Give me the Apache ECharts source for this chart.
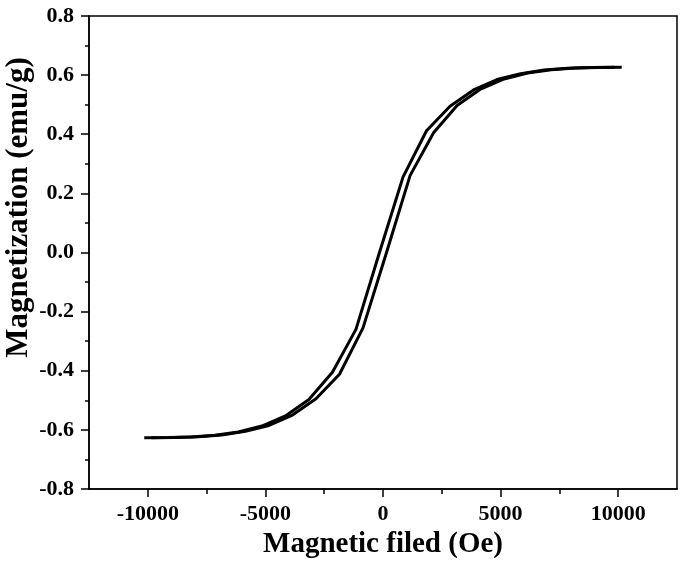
<!DOCTYPE html>
<html>
<head>
<meta charset="utf-8">
<script src="https://cdn.jsdelivr.net/npm/echarts@6/dist/echarts.min.js"></script>
<style>
  html, body { margin: 0; padding: 0; background: #fff; }
  #chart { width: 683px; height: 562px; }
</style>
</head>
<body>
<div id="chart"></div>
<script>
// descending branch: field (Oe) and magnetization (emu/g)
const fieldDown = [9850, 8850, 7850, 6850, 5850, 4850, 3850, 2850, 1850, 850, -150,
  -1150, -2150, -3150, -4150, -5150, -6150, -7150, -8150, -9150, -10150];
const magDown = [0.627, 0.626, 0.623, 0.617, 0.605, 0.585, 0.550, 0.495, 0.412, 0.255, 0.000,
  -0.260, -0.405, -0.497, -0.553, -0.587, -0.607, -0.618, -0.624, -0.626, -0.627];
// ascending branch
const fieldUp = [-9850, -8850, -7850, -6850, -5850, -4850, -3850, -2850, -1850, -850, 150,
  1150, 2150, 3150, 4150, 5150, 6150, 7150, 8150, 9150, 10150];
const magUp = [-0.627, -0.626, -0.623, -0.617, -0.605, -0.585, -0.550, -0.495, -0.412, -0.255, 0.000,
  0.260, 0.405, 0.497, 0.553, 0.587, 0.607, 0.618, 0.624, 0.626, 0.627];

const xMajorTicks = [-10000, -5000, 0, 5000, 10000];
const xMinorTicks = [-7500, -2500, 2500, 7500];

const font = '"Times New Roman", "Liberation Serif", serif';

const chart = echarts.init(document.getElementById('chart'));

const pair = (xs, ys) => xs.map((x, i) => [x, ys[i]]);

const lineSeries = (data) => ({
  type: 'line',
  data: data,
  showSymbol: false,
  symbol: 'none',
  lineStyle: { color: '#000', width: 3 },
  animation: false
});

chart.setOption({
  animation: false,
  grid: {
    left: 89, right: 6, top: 16, bottom: 73,
    containLabel: false,
    outerBoundsMode: 'none',
    show: true, borderColor: '#000', borderWidth: 1.5
  },
  xAxis: [
    {
      type: 'value',
      min: -12500,
      max: 12500,
      name: 'Magnetic filed (Oe)',
      nameLocation: 'middle',
      nameGap: 41,
      nameMoveOverlap: false,
      nameTextStyle: { fontFamily: font, fontWeight: 'bold', fontSize: 29, color: '#000' },
      axisLine: { show: true, onZero: false, lineStyle: { color: '#000', width: 1.5 } },
      axisTick: { show: true, length: 8, customValues: xMajorTicks, lineStyle: { color: '#000', width: 1.5 } },
      axisLabel: {
        customValues: xMajorTicks,
        margin: 14,
        formatter: (v) => String(v),
        fontFamily: font, fontWeight: 'bold', fontSize: 22, color: '#000'
      },
      splitLine: { show: false }
    },
    {
      type: 'value',
      min: -12500,
      max: 12500,
      position: 'bottom',
      axisLine: { show: false, onZero: false },
      axisTick: { show: true, length: 5, customValues: xMinorTicks, lineStyle: { color: '#000', width: 1.5 } },
      axisLabel: { show: false },
      splitLine: { show: false }
    }
  ],
  yAxis: {
    type: 'value',
    min: -0.8,
    max: 0.8,
    interval: 0.2,
    name: 'Magnetization (emu/g)',
    nameLocation: 'middle',
    nameGap: 55,
    nameMoveOverlap: false,
    nameTextStyle: { fontFamily: font, fontWeight: 'bold', fontSize: 31, color: '#000', padding: [0, 0, 0, 90] },
    axisLine: { show: true, onZero: false, lineStyle: { color: '#000', width: 1.5 } },
    axisTick: { show: true, length: 8, lineStyle: { color: '#000', width: 1.5 } },
    minorTick: { show: true, splitNumber: 2, length: 4, lineStyle: { color: '#000', width: 1.5 } },
    axisLabel: {
      margin: 15,
      formatter: (v) => v.toFixed(1),
      fontFamily: font, fontWeight: 'bold', fontSize: 22, color: '#000'
    },
    splitLine: { show: false }
  },
  series: [
    lineSeries(pair(fieldDown, magDown)),
    lineSeries(pair(fieldUp, magUp))
  ]
});
</script>
</body>
</html>
